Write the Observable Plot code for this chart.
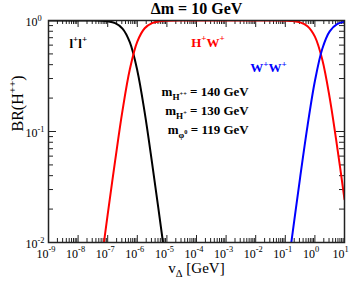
<!DOCTYPE html>
<html>
<head>
<meta charset="utf-8">
<script src="https://cdn.jsdelivr.net/npm/d3@7"></script>
<script src="https://cdn.jsdelivr.net/npm/@observablehq/plot@0.6"></script>
<style>
  html, body { margin: 0; padding: 0; background: #fff; }
  #chart svg { display: block; }
</style>
</head>
<body>
<div id="chart"></div>
<script>
// ---- data ----
const vLL  = [1e-9, 1e-8, 3.16e-8, 5.62e-8, 1e-7, 1.78e-7, 3.16e-7, 5.62e-7, 1e-6, 1.78e-6, 3.16e-6, 5.62e-6, 1e-5];
const brLL = [1, 0.9998, 0.998, 0.9943, 0.982, 0.946, 0.846, 0.635, 0.355, 0.148, 0.052, 0.0171, 0.0055];

const vHW  = [5.62e-8, 7.5e-8, 1e-7, 1.78e-7, 3.16e-7, 5.62e-7, 1e-6, 1.78e-6, 3.16e-6, 5.62e-6, 1e-5, 3.16e-5, 1e-4, 1e-2, 0.0316, 0.0562, 0.1, 0.178, 0.316, 0.562, 1, 1.78, 3.16, 5.62, 10];
const brHW = [0.0057, 0.0101, 0.0179, 0.0543, 0.154, 0.365, 0.645, 0.852, 0.948, 0.983, 0.9945, 0.9995, 1, 1, 0.9996, 0.9987, 0.996, 0.9876, 0.9617, 0.888, 0.715, 0.443, 0.201, 0.0736, 0.0245];

const vWW  = [0.0794, 0.1, 0.178, 0.316, 0.562, 1, 1.78, 3.16, 5.62, 10];
const brWW = [0.0025, 0.004, 0.0124, 0.0383, 0.1118, 0.285, 0.557, 0.799, 0.926, 0.9755];

const xMajor = [1e-9, 1e-8, 1e-7, 1e-6, 1e-5, 1e-4, 1e-3, 1e-2, 1e-1, 1, 10];
const xLabels = ["-9", "-8", "-7", "-6", "-5", "-4", "-3", "-2", "-1", "0", "1"];
const yMajor = [0.01, 0.1, 1];
const yLabels = ["-2", "-1", "0"];

const annoText  = ["l^{+}l^{+}", "H^{+}W^{+}", "W^{+}W^{+}"];
const annoX     = [5.1e-9, 6.6e-5, 6.6e-3];
const annoY     = [0.571, 0.58, 0.343];
const annoColor = ["black", "#ff0000", "#0000ff"];

const massText = ["m_{H^{++}} = 140 GeV", "m_{H^{+}} = 130 GeV", "m_{φ^{0}} = 119 GeV"];
const massX = [5.8e-3, 5.8e-3, 5.8e-3];
const massY = [0.211, 0.141, 0.0953];

// ---- derived tables ----
const ll = vLL.map((v, i) => ({v, br: brLL[i]}));
const hw = vHW.map((v, i) => ({v, br: brHW[i]}));
const ww = vWW.map((v, i) => ({v, br: brWW[i]}));
const anno = annoText.map((t, i) => ({t, x: annoX[i], y: annoY[i], c: annoColor[i]}));
const mass = massText.map((t, i) => ({t, x: massX[i], y: massY[i]}));
const xTickLab = xMajor.map((v, i) => ({v, t: "10^{" + xLabels[i] + "}"}));
const yTickLab = yMajor.map((v, i) => ({v, t: "10^{" + yLabels[i] + "}"}));

const xMinor = [];
for (let e = -9; e < 1; e++) for (let k = 2; k <= 9; k++) xMinor.push(k * Math.pow(10, e));
const yMinor = [];
for (let e = -2; e < 0; e++) for (let k = 2; k <= 9; k++) yMinor.push(k * Math.pow(10, e));

const W = 354, H = 283, mL = 48, mR = 10, mT = 20, mB = 41;
const ph = H - mT - mB, pw = W - mL - mR;
const font = "Liberation Serif, Times New Roman, serif";

const chart = Plot.plot({
  width: W, height: H,
  marginLeft: mL, marginRight: mR, marginTop: mT, marginBottom: mB,
  style: {fontFamily: font, background: "white", overflow: "visible"},
  x: {type: "log", domain: [1e-9, 10], axis: null},
  y: {type: "log", domain: [0.01, 1], axis: null},
  marks: [
    // ticks (inward) on all four sides
    Plot.tickX(xMajor, {x: d => d, insetTop: ph - 7, stroke: "#222"}),
    Plot.tickX(xMinor, {x: d => d, insetTop: ph - 4, stroke: "#222"}),
    Plot.tickX(xMajor, {x: d => d, insetBottom: ph - 7, stroke: "#222"}),
    Plot.tickX(xMinor, {x: d => d, insetBottom: ph - 4, stroke: "#222"}),
    Plot.tickY(yMajor, {y: d => d, insetRight: pw - 8, stroke: "#222"}),
    Plot.tickY(yMinor, {y: d => d, insetRight: pw - 5, stroke: "#222"}),
    Plot.tickY(yMajor, {y: d => d, insetLeft: pw - 8, stroke: "#222"}),
    Plot.tickY(yMinor, {y: d => d, insetLeft: pw - 5, stroke: "#222"}),
    // curves
    Plot.line(ll, {x: "v", y: "br", stroke: "black", strokeWidth: 2, curve: "catmull-rom", clip: true}),
    Plot.line(hw, {x: "v", y: "br", stroke: "#ff0000", strokeWidth: 2, curve: "catmull-rom", clip: true}),
    Plot.line(ww, {x: "v", y: "br", stroke: "#0000ff", strokeWidth: 2, curve: "catmull-rom", clip: true}),
    Plot.frame({stroke: "#222", strokeWidth: 1.5}),
    // tick labels
    Plot.text(xTickLab, {x: "v", text: "t", frameAnchor: "bottom", dy: 15, dx: -12, textAnchor: "start", lineAnchor: "bottom", fontSize: 12, fill: "black"}),
    Plot.text(yTickLab, {y: "v", text: "t", frameAnchor: "left", dx: -23, dy: 2, textAnchor: "start", lineAnchor: "middle", fontSize: 12, fill: "black"}),
    // titles
    Plot.text(["Δm = 10 GeV"], {frameAnchor: "top", dy: -7, lineAnchor: "bottom", fontSize: 16, fontWeight: "bold", fill: "black"}),
    Plot.text(["v_{Δ} [GeV]"], {frameAnchor: "bottom", dy: 30, lineAnchor: "bottom", fontSize: 15, fill: "black"}),
    Plot.text(["BR(H^{++})"], {frameAnchor: "left", dx: -26, dy: 0, rotate: -90, lineAnchor: "bottom", fontSize: 16, fill: "black"}),
    // annotations
    Plot.text(anno, {x: "x", y: "y", text: "t", fill: "c", textAnchor: "start", lineAnchor: "bottom", fontSize: 13, fontWeight: "bold"}),
    Plot.text(mass, {x: "x", y: "y", text: "t", fill: "black", textAnchor: "end", lineAnchor: "bottom", fontSize: 13, fontWeight: "bold"})
  ]
});

// convert ^{..} / _{..} markup into real tspans
function parseMarkup(s) {
  const out = [];
  function rec(str, path) {
    let i = 0, buf = "";
    while (i < str.length) {
      const c = str[i];
      if ((c === "^" || c === "_") && str[i + 1] === "{") {
        if (buf) { out.push({t: buf, path}); buf = ""; }
        let depth = 0, j = i + 1;
        for (; j < str.length; j++) {
          if (str[j] === "{") depth++;
          else if (str[j] === "}") { depth--; if (depth === 0) break; }
        }
        rec(str.slice(i + 2, j), path.concat(c));
        i = j + 1;
      } else { buf += c; i++; }
    }
    if (buf) out.push({t: buf, path});
  }
  rec(s, []);
  return out;
}

document.getElementById("chart").appendChild(chart);

const ns = "http://www.w3.org/2000/svg";
chart.querySelectorAll("text").forEach(el => {
  const s = el.textContent;
  if (!/[\^_]\{/.test(s)) return;
  const base = parseFloat(getComputedStyle(el).fontSize) || 10;
  const segs = parseMarkup(s);
  el.textContent = "";
  let cur = 0;
  for (const seg of segs) {
    let size = base, off = 0;
    for (const p of seg.path) {
      off += p === "^" ? -0.42 * size : 0.32 * size;
      size *= 0.7;
    }
    const ts = document.createElementNS(ns, "tspan");
    ts.setAttribute("font-size", size.toFixed(2));
    const d = off - cur;
    if (Math.abs(d) > 1e-6) ts.setAttribute("dy", d.toFixed(2));
    cur = off;
    ts.textContent = seg.t;
    el.appendChild(ts);
  }
});
</script>
</body>
</html>
